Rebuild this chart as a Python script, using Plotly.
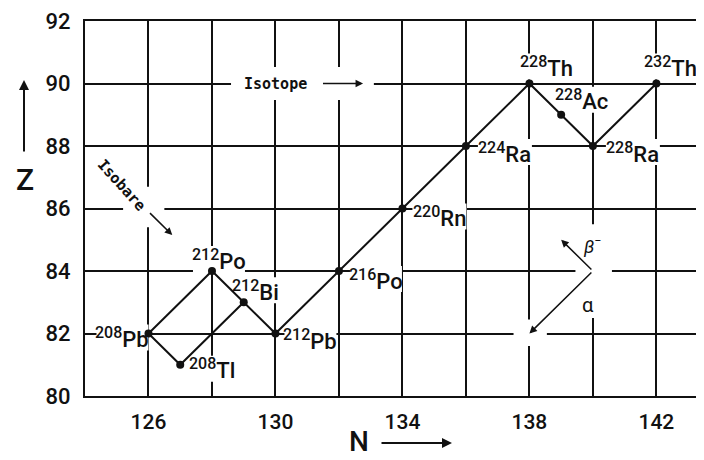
import plotly.graph_objects as go

# ---------------- data ----------------
nuclides = ["232Th", "228Ra", "228Ac", "228Th", "224Ra", "220Rn",
            "216Po", "212Pb", "212Bi", "212Po", "208Tl", "208Pb"]
mass_numbers = [232, 228, 228, 228, 224, 220, 216, 212, 212, 212, 208, 208]
symbols = ["Th", "Ra", "Ac", "Th", "Ra", "Rn", "Po", "Pb", "Bi", "Po", "Tl", "Pb"]
neutrons = [142, 140, 139, 138, 136, 134, 132, 130, 129, 128, 127, 126]
protons = [90, 88, 89, 90, 88, 86, 84, 82, 83, 84, 81, 82]
decay_path = ["232Th", "228Ra", "228Ac", "228Th", "224Ra", "220Rn", "216Po",
              "212Pb", "212Bi", "212Po", "208Pb", "208Tl", "212Bi"]

x_ticks = [126, 130, 134, 138, 142]
y_ticks = [80, 82, 84, 86, 88, 90, 92]
x_range = [124, 143.5]
y_range = [80, 92]

# ---------------- style / layout ----------------
OFF = 8                      # page body margin
FIG_W, FIG_H = 696, 452
M_L, M_R, M_T, M_B = 77, 0, 13, 64
PW = FIG_W - M_L - M_R
PH = FIG_H - M_T - M_B
SX = (x_range[1] - x_range[0]) / PW   # data units per pixel
SY = (y_range[1] - y_range[0]) / PH

# label offsets (pixels, y up) and box widths relative to each nuclide point
label_shift = {
    "232Th": (14, 17, 52), "228Th": (17, 17, 52), "228Ac": (20, 15, 52),
    "228Ra": (40, -6, 54), "224Ra": (39, -6, 54), "220Rn": (37, -8, 54),
    "216Po": (37, -8, 52), "212Pb": (35, -6, 52), "212Bi": (12, 12, 44),
    "212Po": (7, 12, 52), "208Pb": (-26, -4, 52), "208Tl": (32, -4, 44),
}
FONT = "Roboto, Liberation Sans, Arial, sans-serif"
INK = "#111111"

pos = {n: (x, y) for n, x, y in zip(nuclides, neutrons, protons)}
px = [pos[n][0] for n in decay_path]
py = [pos[n][1] for n in decay_path]

fig = go.Figure()
fig.add_trace(go.Scatter(x=px, y=py, mode="lines",
                         line=dict(color=INK, width=2), hoverinfo="skip"))
fig.add_trace(go.Scatter(x=neutrons, y=protons, mode="markers",
                         marker=dict(color=INK, size=8), hoverinfo="skip"))

annotations = []
shapes = []


def white_box(cx, cy, w_px, h_px):
    shapes.append(dict(type="rect", xref="x", yref="y",
                       x0=cx - w_px / 2 * SX, x1=cx + w_px / 2 * SX,
                       y0=cy - h_px / 2 * SY, y1=cy + h_px / 2 * SY,
                       fillcolor="white", line=dict(width=0), layer="between"))


for n, a, s in zip(nuclides, mass_numbers, symbols):
    dx, dy, w = label_shift[n]
    annotations.append(dict(
        x=pos[n][0], y=pos[n][1], xref="x", yref="y",
        text=f"<sup><span style='font-size:16px'>{a}</span></sup>{s}", showarrow=False,
        xanchor="center", yanchor="middle", xshift=dx, yshift=dy,
        font=dict(family=FONT, size=22, color=INK, weight=500)))
    white_box(pos[n][0] + dx * SX, pos[n][1] + dy * SY, w, 26)

# Isotope / Isobare hints
annotations.append(dict(x=130, y=90, xref="x", yref="y", text="<b>Isotope</b>",
                        showarrow=False, font=dict(family="DejaVu Sans Mono", size=15, color=INK)))
annotations.append(dict(x=132.76, y=90, ax=131.45, ay=90, xref="x", yref="y",
                        axref="x", ayref="y", text="", showarrow=True,
                        arrowhead=2, arrowsize=1, arrowwidth=1.5, arrowcolor=INK))
annotations.append(dict(x=125.15, y=86.75, xref="x", yref="y", text="<b>Isobare</b>",
                        textangle=48, showarrow=False,
                        font=dict(family="DejaVu Sans Mono", size=15, color=INK)))
annotations.append(dict(x=126.75, y=85.15, ax=126.0, ay=85.9, xref="x", yref="y",
                        axref="x", ayref="y", text="", showarrow=True,
                        arrowhead=2, arrowsize=1, arrowwidth=1.5, arrowcolor=INK))
# beta / alpha legend
annotations.append(dict(x=139, y=85, ax=140, ay=84, xref="x", yref="y",
                        axref="x", ayref="y", text="", showarrow=True,
                        arrowhead=2, arrowsize=1, arrowwidth=1.5, arrowcolor=INK))
annotations.append(dict(x=138, y=82, ax=140, ay=84, xref="x", yref="y",
                        axref="x", ayref="y", text="", showarrow=True,
                        arrowhead=2, arrowsize=1, arrowwidth=1.5, arrowcolor=INK))
annotations.append(dict(x=140.0, y=84.83, xref="x", yref="y", text="<i>β</i><sup>−</sup>",
                        showarrow=False, font=dict(family=FONT, size=18, color=INK)))
annotations.append(dict(x=139.84, y=82.9, xref="x", yref="y", text="α",
                        showarrow=False, font=dict(family=FONT, size=20, color=INK)))


def paper_x(sx):
    return (sx - OFF - M_L) / PW


def paper_y(sy):
    return (OFF + M_T + PH - sy) / PH


# axis titles with arrows (screen pixel positions converted to paper coordinates)
annotations.append(dict(x=paper_x(25), y=paper_y(179), xref="paper", yref="paper",
                        xanchor="center", yanchor="middle",
                        text="Z", showarrow=False,
                        font=dict(family=FONT, size=30, color=INK, weight=500)))
annotations.append(dict(x=paper_x(24), y=paper_y(80), ax=0, ay=73,
                        xref="paper", yref="paper", text="", showarrow=True,
                        arrowhead=2, arrowsize=1, arrowwidth=2, arrowcolor=INK))
annotations.append(dict(x=paper_x(359), y=paper_y(441), xref="paper", yref="paper",
                        xanchor="center", yanchor="middle",
                        text="N", showarrow=False,
                        font=dict(family=FONT, size=28, color=INK, weight=500)))
annotations.append(dict(x=paper_x(452), y=paper_y(443), ax=-72, ay=0,
                        xref="paper", yref="paper", text="", showarrow=True,
                        arrowhead=2, arrowsize=1, arrowwidth=2, arrowcolor=INK))

# white gaps in the grid around hints
gaps = [((128.6, 133.1), (89.47, 90.53)),
        ((125.2, 126.5), (85.4, 86.7)),
        ((139.45, 140.6), (82.5, 85.5)),
        ((137.5, 138.55), (81.6, 82.45))]
for g in gaps:
    shapes.append(dict(type="rect", xref="x", yref="y", x0=g[0][0], x1=g[0][1],
                       y0=g[1][0], y1=g[1][1], fillcolor="white", line=dict(width=0),
                       layer="between"))

fig.update_layout(
    width=FIG_W, height=FIG_H,
    margin=dict(l=M_L, r=M_R, t=M_T, b=M_B),
    paper_bgcolor="white", plot_bgcolor="white",
    showlegend=False,
    annotations=annotations, shapes=shapes,
    xaxis=dict(range=x_range, tickvals=x_ticks, showgrid=True,
               gridcolor=INK, gridwidth=2, zeroline=False,
               showline=True, linecolor=INK, linewidth=2, mirror=True,
               ticks="", ticklabelstandoff=6,
               tickfont=dict(family=FONT, size=21, color=INK, weight=500),
               minor=dict(tick0=126, dtick=2, showgrid=True, gridcolor=INK, gridwidth=2)),
    yaxis=dict(range=y_range, tickvals=y_ticks, showgrid=True,
               gridcolor=INK, gridwidth=2, zeroline=False,
               showline=True, linecolor=INK, linewidth=2,
               ticks="", ticklabelstandoff=8,
               tickfont=dict(family=FONT, size=22, color=INK, weight=500)),
)

fig.write_html("out.html")
